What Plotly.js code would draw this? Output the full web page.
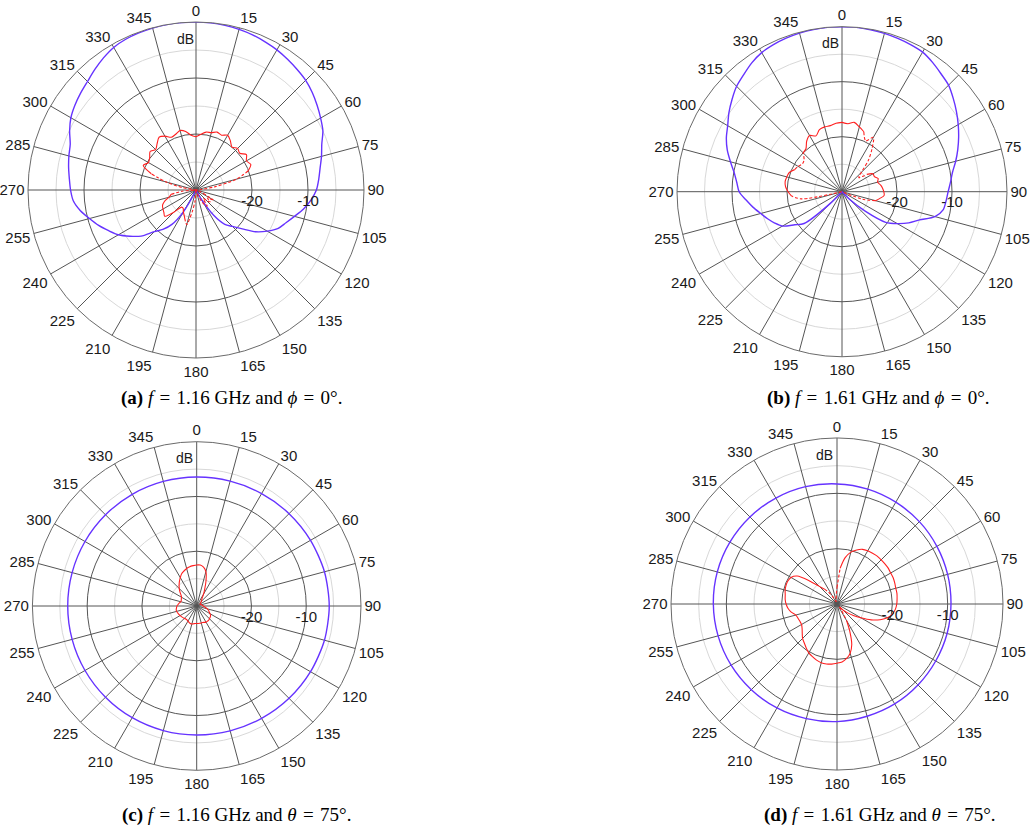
<!DOCTYPE html>
<html>
<head>
<meta charset="utf-8">
<script src="https://cdn.plot.ly/plotly-3.0.1.min.js"></script>
<style>
html,body{margin:0;padding:0;background:#fff;}
#chart{width:1030px;height:834px;}
</style>
</head>
<body>
<div id="chart"></div>
<script>
// ---------- angles ----------
const theta5 = [0,5,10,15,20,25,30,35,40,45,50,55,60,65,70,75,80,85,90,95,100,105,110,115,120,125,130,135,140,145,150,155,160,165,170,175,180,185,190,195,200,205,210,215,220,225,230,235,240,245,250,255,260,265,270,275,280,285,290,295,300,305,310,315,320,325,330,335,340,345,350,355,360];
const theta15 = [0,15,30,45,60,75,90,105,120,135,150,165,180,195,210,225,240,255,270,285,300,315,330,345,360];
const angTickVals = [0,15,30,45,60,75,90,105,120,135,150,165,180,195,210,225,240,255,270,285,300,315,330,345];
const angTickText = ['0','15','30','45','60','75','90','105','120','135','150','165','180','195','210','225','240','255','270','285','300','315','330','345'];
const radTickVals = [-20,-10];
const radTickText = ['-20','-10'];
const radMinorVals = [-25,-15,-5];

// ---------- (a) f = 1.16 GHz, phi = 0 ----------
const blueA = [0,-0.05,-0.15,-0.3,-0.5,-0.8,-1.1,-1.5,-1.9,-2.3,-2.9,-3.6,-4.3,-5.0,-6.1,-6.8,-7.5,-8.0,-8.5,-9.4,-10.5,-11.8,-12.9,-13.8,-15.3,-17.0,-19.2,-20.8,-22.0,-24.5,-28,-30,-30,-30,-30,-30,-30,-30,-30,-30,-30,-29.5,-25.5,-22.5,-20.8,-19.5,-17.2,-15.6,-14.0,-12.8,-11.5,-10.3,-9.0,-8.0,-7.6,-7.3,-6.9,-6.5,-6.1,-5.1,-4.2,-3.6,-3.1,-2.6,-1.9,-1.2,-0.6,-0.3,-0.15,-0.05,0,0,0];
const redA = [-20.5,-20.0,-19.5,-19.4,-19.0,-19.2,-18.7,-19.3,-20.0,-19.5,-19.8,-19.0,-19.6,-19.2,-20.1,null,null,null,null,null,null,null,null,null,null,null,null,null,null,null,null,null,null,null,null,null,null,null,null,null,-24.3,-25,-25.5,-26,-26,-24.4,-22.7,-23,-23.2,-23.4,-24,-25,-25.5,null,null,null,null,null,-21.5,-19.6,-20.2,-19.9,-19.3,-19.8,-19.2,-18.5,-18.9,-19.6,-19.4,-19.0,-19.4,-20.2,-20.5];
const redADash = [null,null,null,null,null,null,null,null,null,null,null,null,null,null,-20.1,-22.5,-26.5,-29,-30,null,null,null,null,-30,-26.5,-27.5,-26.7,-27.5,-28,-26.5,-27,-28,-30,null,null,null,-30,-28,-26,-23.6,-24.3,null,null,null,null,null,null,null,null,null,null,null,-25.5,-27.5,-30,-30,-27.5,-24.5,-21.5,null,null,null,null,null,null,null,null,null,null,null,null,null,null];

// ---------- (b) f = 1.61 GHz, phi = 0 ----------
const blueB = [0,0,-0.1,-0.2,-0.35,-0.5,-0.7,-1.3,-2,-2.6,-3.6,-4.6,-5.6,-6.6,-7.6,-8.6,-9.6,-10.2,-10.7,-11.0,-11.3,-12.5,-15,-16.6,-18.4,-20.3,-24.5,-28,-30,-30,-30,-30,-30,-30,-30,-30,-30,-30,-30,-30,-30,-30,-30,-30,-30,-27,-21,-19.5,-17.5,-16.5,-15.6,-14.7,-13.6,-12.5,-11.3,-10.8,-10.1,-9,-7.8,-6.8,-6.0,-4.9,-3.9,-2.9,-2.2,-1.4,-0.8,-0.5,-0.3,-0.15,-0.05,0,0];
const redB = [-17.4,-17.6,-17.2,-17.8,-18.4,null,null,null,null,null,null,-24.5,-23.5,-23.5,-23,-23.3,-22.9,-22.6,-22.4,-22.3,-23,-23.7,null,null,null,null,null,null,null,null,null,null,null,null,null,null,null,null,null,null,null,null,null,null,null,null,null,null,null,null,null,null,null,-20.8,-20.2,-19.7,-19.5,-19.6,-19.8,-20.5,null,null,null,-20.0,-19.8,-18.8,-18.2,-18.8,-18.0,-17.8,-17.8,-17.5,-17.4];
const redBDash = [null,null,null,null,-18.4,-19.8,-18.6,-20.5,-22.5,-25,-26,-24.5,null,null,null,null,null,null,null,null,null,-23.7,-26,-30,null,null,null,null,null,null,null,null,null,null,null,null,null,null,null,null,null,null,null,null,null,null,null,null,null,null,null,-30,-22.5,-20.8,null,null,null,null,null,-20.5,-20.8,-21.2,-21.0,-20.0,null,null,null,null,null,null,null,null,null];

// ---------- (c) f = 1.16 GHz, theta = 75 ----------
const blueC = [-6.45,-6.4,-6.3,-6.15,-6.0,-5.85,-5.8,-5.85,-6.0,-6.15,-6.3,-6.4,-6.45,-6.45,-6.45,-6.45,-6.45,-6.45,-6.45,-6.45,-6.45,-6.45,-6.45,-6.45,-6.45];
const redC = [-22.5,-22.5,-22.8,-23.5,-25.0,-26.5,-27.5,-28.3,-28.6,-28.8,-29,-29.2,-29.3,-29.3,-29.2,-29.1,-29,-28.9,-28.8,-28.6,-28.3,-28.0,-27.7,-27.5,-27.2,-26.9,-26.8,-26.7,-26.6,-26.6,-26.6,-26.7,-26.8,-26.8,-26.8,-26.8,-26.8,-26.8,-26.7,-26.6,-26.6,-26.7,-26.8,-26.9,-26.9,-26.8,-26.7,-26.6,-26.5,-26.4,-26.3,-26.2,-26.2,-26.3,-26.4,-26.6,-26.8,-27.0,-27.0,-26.9,-26.8,-26.5,-26.0,-25.5,-25.0,-24.5,-24.0,-23.5,-23.2,-22.9,-22.7,-22.6,-22.5];

// ---------- (d) f = 1.61 GHz, theta = 75 ----------
const blueD = [-8.3,-8.5,-8.75,-8.95,-9.15,-9.3,-9.4,-9.4,-9.4,-9.3,-9.15,-9.0,-8.75,-8.55,-8.3,-8.1,-7.9,-7.75,-7.65,-7.6,-7.65,-7.75,-7.9,-8.05,-8.3];
const redD = [null,-23.5,-21.5,-20.3,-19.6,-19.1,-18.9,-18.8,-18.7,-18.7,-18.7,-18.7,-18.8,-18.8,-18.9,-19.0,-19.0,-19.1,-19.2,-19.4,-19.8,-20.5,-21.7,-23.2,-25.0,-26.4,-27.5,-28.5,-29.3,null,-26.5,-24.5,-22.2,-20.8,-20.0,-19.5,-19.3,-19.1,-19.0,-19.0,-19.2,-19.5,-19.8,-20.3,-20.8,-21.2,-21.8,-22.3,-22.6,-22.6,-22.5,-22.3,-21.6,-21.1,-20.8,-20.6,-20.5,-20.3,-20.2,-20.2,-20.4,-21.2,-23.5,-25.5,-26.5,null,null,null,null,null,null,null,null];
const redDDash = [-27,-23.5,null,null,null,null,null,null,null,null,null,null,null,null,null,null,null,null,null,null,null,null,null,null,null,null,null,null,-29.3,-28.5,-26.5,null,null,null,null,null,null,null,null,null,null,null,null,null,null,null,null,null,null,null,null,null,null,null,null,null,null,null,null,null,null,null,null,null,-26.5,-27.5,-28.5,-29.2,-29.5,-29.5,-29.2,-28.5,-27];

const SP = '\u2004';
const captions = [
  '<b>(a)</b> <i>f</i>'+SP+'='+SP+'1.16 GHz and <i>\u03D5</i>'+SP+'='+SP+'0°.',
  '<b>(b)</b> <i>f</i>'+SP+'='+SP+'1.61 GHz and <i>\u03D5</i>'+SP+'='+SP+'0°.',
  '<b>(c)</b> <i>f</i>'+SP+'='+SP+'1.16 GHz and <i>θ</i>'+SP+'='+SP+'75°.',
  '<b>(d)</b> <i>f</i>'+SP+'='+SP+'1.61 GHz and <i>θ</i>'+SP+'='+SP+'75°.'
];

// ---------- styles ----------
const W = 1030, H = 834;
const BLUE = '#6633ff', RED = '#ff1f1f';
const GRID = '#555555', MINOR = '#d8d8d8';
// panel centre (px) and outer radius (px)
const panels = [
  {cx:196, cy:190, r:168, db:[185,39], cap:[231,398]},
  {cx:842, cy:191.7, r:165, db:[830,43], cap:[878,398]},
  {cx:196.7, cy:606, r:164.3, db:[184,458], cap:[236,815]},
  {cx:837, cy:604, r:166, db:[824,455], cap:[880,815]}
];

function dom(p){
  return {x:[(p.cx-p.r)/W,(p.cx+p.r)/W], y:[1-(p.cy+p.r)/H, 1-(p.cy-p.r)/H]};
}

const layout = {
  width:W, height:H, margin:{l:0,r:0,t:0,b:0},
  paper_bgcolor:'#fff', showlegend:false, hovermode:false,
  font:{family:'Liberation Sans, Arial, sans-serif', size:14, color:'#1a1a1a'},
  annotations:[]
};

const traces = [];
const series = [
  {blue:[theta5,blueA], red:[theta5,redA], dash:[theta5,redADash]},
  {blue:[theta5,blueB], red:[theta5,redB], dash:[theta5,redBDash]},
  {blue:[theta15,blueC], red:[theta5,redC], dash:null},
  {blue:[theta15,blueD], red:[theta5,redD], dash:[theta5,redDDash]}
];

panels.forEach((p,i)=>{
  const base = i===0 ? 'polar' : 'polar'+(i+1);
  const main = 'polar'+(i+5);
  const d = dom(p);
  layout[base] = {
    domain:d, bgcolor:'#fff',
    radialaxis:{range:[-30,0], tickvals:radMinorVals, showticklabels:false, ticks:'', showline:false, gridcolor:MINOR, gridwidth:1},
    angularaxis:{rotation:90, direction:'clockwise', showgrid:false, showline:false, showticklabels:false, ticks:''}
  };
  layout[main] = {
    domain:d, bgcolor:'rgba(0,0,0,0)',
    radialaxis:{range:[-30,0], tickvals:radTickVals, ticktext:radTickText, angle:0, side:'clockwise',
      ticks:'', showline:false, gridcolor:GRID, gridwidth:1, tickfont:{size:15, color:'#1a1a1a'}},
    angularaxis:{rotation:90, direction:'clockwise', tickvals:angTickVals, ticktext:angTickText,
      showgrid:true, gridcolor:GRID, gridwidth:1, showline:true, linecolor:'#6a6a6a', linewidth:1,
      ticks:'', ticklen:0, tickfont:{size:15, color:'#1a1a1a'}}
  };
  traces.push({type:'scatterpolar', subplot:base, r:[-30], theta:[0], mode:'markers', marker:{opacity:0}, hoverinfo:'skip'});
  const s = series[i];
  traces.push({type:'scatterpolar', subplot:main, theta:s.blue[0], r:s.blue[1], mode:'lines',
    line:{color:BLUE, width:1.4, shape:'spline', smoothing:0.8}, hoverinfo:'skip'});
  traces.push({type:'scatterpolar', subplot:main, theta:s.red[0], r:s.red[1], mode:'lines', connectgaps:false,
    line:{color:RED, width:1.1, shape:'spline', smoothing:0.8}, hoverinfo:'skip'});
  if (s.dash) traces.push({type:'scatterpolar', subplot:main, theta:s.dash[0], r:s.dash[1], mode:'lines', connectgaps:false,
    line:{color:RED, width:1.1, dash:'3px,2px', shape:'spline', smoothing:0.8}, hoverinfo:'skip'});
  layout.annotations.push({xref:'paper', yref:'paper', x:p.db[0]/W, y:1-p.db[1]/H, text:'dB', showarrow:false,
    xanchor:'center', yanchor:'middle', font:{size:14, color:'#1a1a1a'}});
  layout.annotations.push({xref:'paper', yref:'paper', x:p.cap[0]/W, y:1-p.cap[1]/H, text:captions[i], showarrow:false,
    xanchor:'center', yanchor:'middle', font:{family:'Liberation Serif, DejaVu Serif, serif', size:19, color:'#000'}});
});

Plotly.newPlot('chart', traces, layout, {staticPlot:true, displayModeBar:false});
</script>
</body>
</html>
